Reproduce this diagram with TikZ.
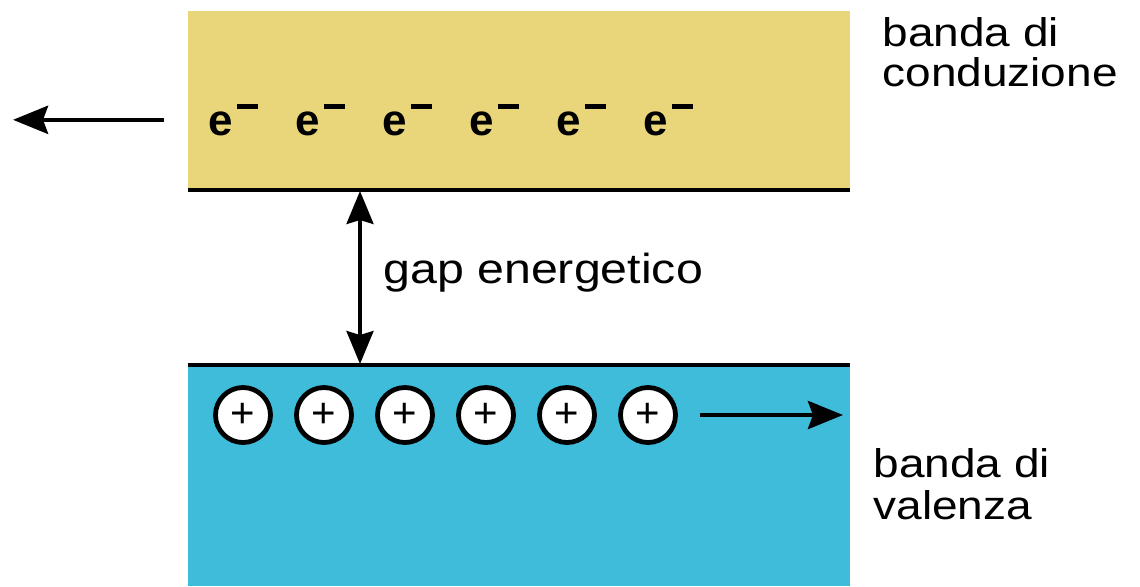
\documentclass[tikz,border=0pt]{standalone}
\usepackage{fontspec}
\setmainfont{Liberation Sans}
\usetikzlibrary{arrows.meta}

\definecolor{condcol}{RGB}{234,214,122}
\definecolor{valcol}{RGB}{62,188,218}

% electron with raised minus bar
\newcommand{\elneg}{e\kern0.1em\raisebox{0.6em}{\rule{0.48em}{0.1em}}}

\begin{document}
\begin{tikzpicture}[x=0.5pt, y=-0.5pt,
    lbl/.style={font=\fontsize{20}{24}\selectfont, anchor=base west, align=left, inner sep=0pt, xscale=1.15},
    elec/.style={font=\fontsize{22}{22}\selectfont\bfseries, anchor=base west, inner sep=0pt},
    hole/.style={circle, draw, line width=2.4pt, fill=white, minimum size=27.5pt, inner sep=0pt,
                 font=\fontsize{21}{21}\selectfont},
    flow/.style={line width=2.25pt, -{Stealth[length=17.5pt, width=14pt, inset=2.5pt]}}]
    \useasboundingbox (0, 0) rectangle (1140, 586);

    % bands
    \fill[condcol] (188, 11) rectangle (850, 190);
    \fill[valcol] (188, 365) rectangle (850, 586);
    \draw[line width=2.25pt] (188, 190) -- (850, 190);
    \draw[line width=2.25pt] (188, 365) -- (850, 365);

    % band edges for the gap
    \coordinate (gaptop) at (360, 191);
    \coordinate (gapbot) at (360, 364);
    \draw[line width=1.75pt, {Stealth[length=16.5pt, width=13.5pt, inset=2pt]}-{Stealth[length=16.5pt, width=13.5pt, inset=2pt]}]
        (gaptop) -- (gapbot);
    \node[lbl, font=\fontsize{21}{24}\selectfont] (gap) at (383, 283) {gap energetico};

    % electrons
    \node[elec] (e1) at (208, 135) {\elneg};
    \node[elec] (e2) at (295, 135) {\elneg};
    \node[elec] (e3) at (382, 135) {\elneg};
    \node[elec] (e4) at (469, 135) {\elneg};
    \node[elec] (e5) at (556, 135) {\elneg};
    \node[elec] (e6) at (643, 135) {\elneg};
    \coordinate (eout) at (13, 0);
    \draw[flow, shorten <=22pt] (e1.west) -- (e1.west -| eout);

    % holes
    \node[hole] (h1) at (243, 415) {+};
    \node[hole] (h2) at (324, 415) {+};
    \node[hole] (h3) at (405, 415) {+};
    \node[hole] (h4) at (486, 415) {+};
    \node[hole] (h5) at (567, 415) {+};
    \node[hole] (h6) at (648, 415) {+};
    \coordinate (hout) at (843, 0);
    \draw[flow, shorten <=11pt] (h6.east) -- (h6.east -| hout);

    % labels (baseline of last line)
    \node[lbl, font=\fontsize{20}{20}\selectfont] (cond) at (882, 86) {banda di\\conduzione};
    \node[lbl, font=\fontsize{20}{21}\selectfont] (val) at (873, 519) {banda di\\valenza};
\end{tikzpicture}
\end{document}
